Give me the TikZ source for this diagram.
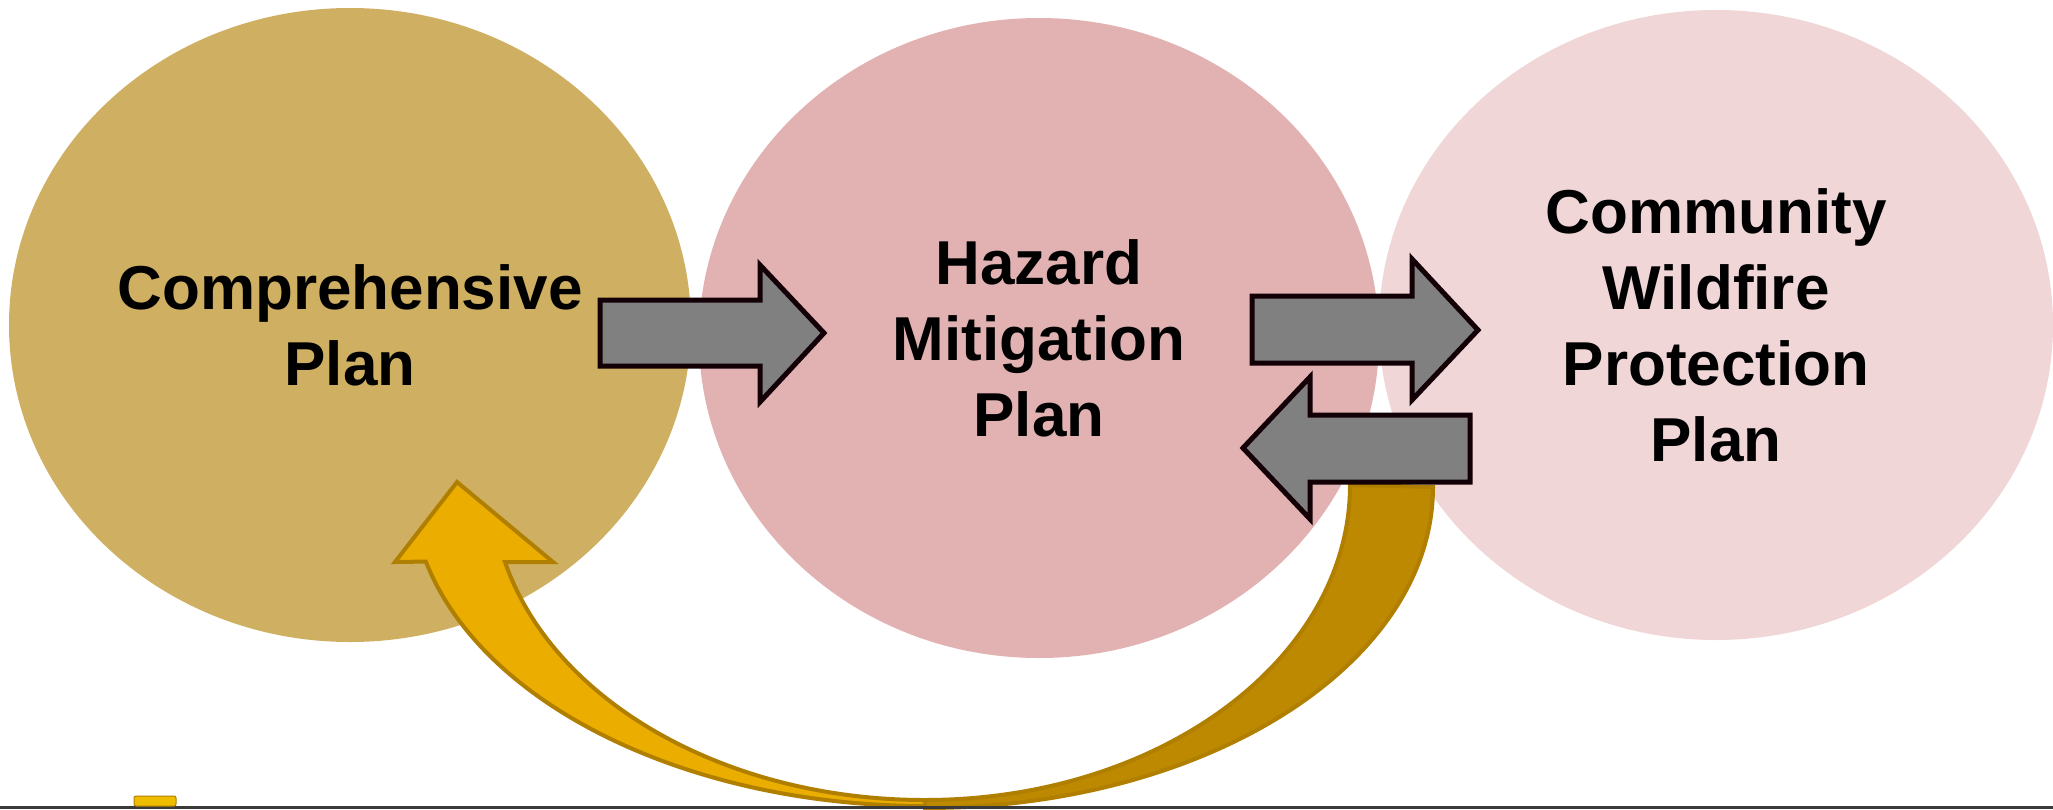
\documentclass[tikz,border=0pt]{standalone}
\usepackage{fontspec}
\setmainfont{Liberation Sans}
\usetikzlibrary{shapes.geometric}
\definecolor{cTan}{HTML}{CFB062}
\definecolor{cRose}{HTML}{E2B2B2}
\definecolor{cBlush}{HTML}{F0D6D6}
\definecolor{cGray}{HTML}{808080}
\definecolor{cEdge}{HTML}{120006}
\definecolor{cGoldL}{HTML}{EAAD00}
\definecolor{cGoldD}{HTML}{BD8900}
\definecolor{cGoldE}{HTML}{B07F00}
\definecolor{cBase}{HTML}{3A3A3A}
\begin{document}
\begin{tikzpicture}[x=1pt,y=-1pt,
  plan/.style={ellipse, inner sep=0pt, align=center, draw=none,
    font=\fontsize{62}{76}\selectfont\bfseries, text=black},
  blockarrow/.style={fill=cGray, draw=cEdge, line width=5pt, line join=miter},
  bandlight/.style={fill=cGoldL, draw=cGoldE, line width=4pt, line join=miter},
  banddark/.style={fill=cGoldD, draw=cGoldE, line width=4pt, line join=miter}]
\useasboundingbox[fill=white] (0,0) rectangle (2053,809);

% ellipses with labels
\node[plan, fill=cTan, minimum width=682pt, minimum height=634pt] (comp) at (350,325) {Comprehensive\\Plan};
\node[plan, fill=cRose, minimum width=680pt, minimum height=640pt] (haz) at (1039,338) {Hazard\\Mitigation\\Plan};
\node[plan, fill=cBlush, minimum width=674pt, minimum height=630pt] (cwpp) at (1716,325) {Community\\Wildfire\\Protection\\Plan};

% curved return arrow: tail band (dark)
\draw[banddark] (1433,487) arc[start angle=0, end angle=90, x radius=508, y radius=321]
  -- (925,800) arc[start angle=90, end angle=0, x radius=425, y radius=315] -- cycle;
% head band (light) with arrowhead
\draw[bandlight] (925,806) arc[start angle=90, end angle=166.2, x radius=514, y radius=321]
  -- (395,562) -- (457,482) -- (553,562) -- (505,562)
  arc[start angle=165.85, end angle=90, x radius=433, y radius=315] -- cycle;

% block arrows
\draw[blockarrow] (600,300) -- (760,300) -- (760,265) -- (824,333) -- (760,402) -- (760,366) -- (600,366) -- cycle;
\draw[blockarrow] (1252,296) -- (1412,296) -- (1412,259) -- (1478,330) -- (1412,400) -- (1412,363) -- (1252,363) -- cycle;
\draw[blockarrow] (1470,415) -- (1310,415) -- (1310,377) -- (1243,448) -- (1310,519) -- (1310,482) -- (1470,482) -- cycle;

% base line and small emblem
\draw[cBase, line width=2.5pt] (0,807.5) -- (2053,807.5);
\draw[fill=cGoldL!80!yellow, draw=cGoldE, line width=1pt, rounded corners=2pt] (134,796) rectangle (176,806);
\end{tikzpicture}
\end{document}
